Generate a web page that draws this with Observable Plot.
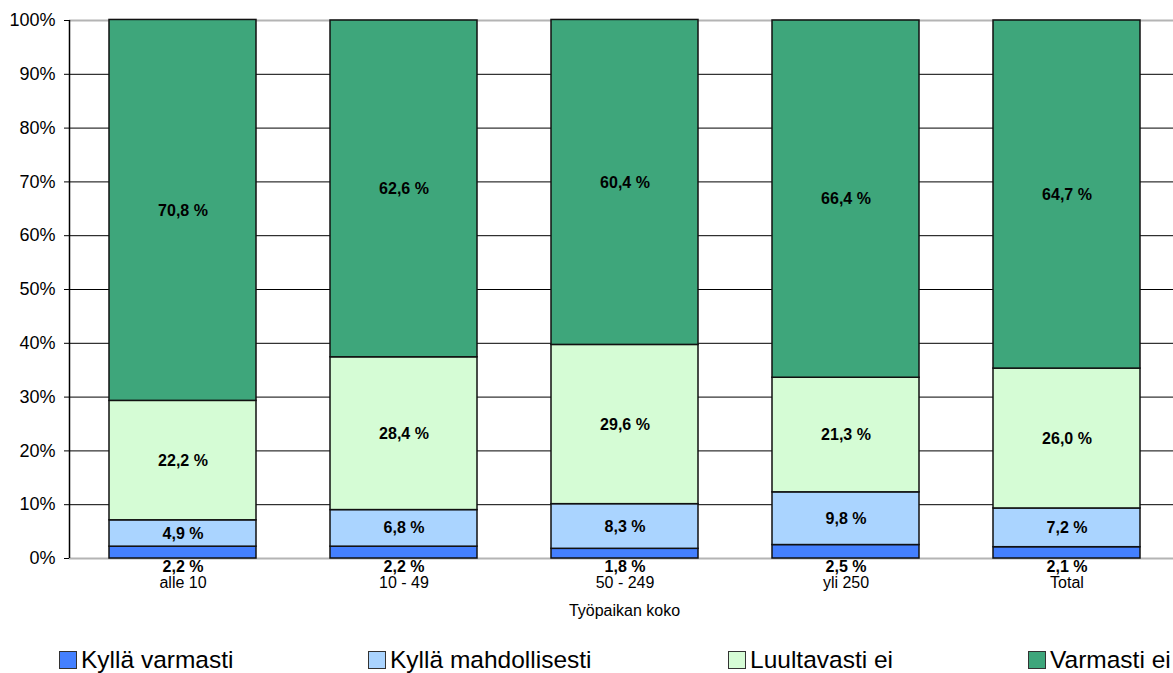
<!DOCTYPE html>
<html>
<head>
<meta charset="utf-8">
<script src="https://cdn.jsdelivr.net/npm/d3@7"></script>
<script src="https://cdn.jsdelivr.net/npm/@observablehq/plot@0.6"></script>
<style>
  html, body { margin: 0; padding: 0; background: #fff; }
  body { width: 1173px; height: 673px; position: relative; overflow: hidden;
         font-family: "Liberation Sans", Arial, sans-serif; color: #000; }
  #chart { position: absolute; left: 0; top: 0; }
  .legend-item { position: absolute; top: 647px; height: 26px; font-size: 24.5px; line-height: 25px; white-space: nowrap; }
  .legend-item .sw { position: absolute; left: 0; top: 4px; width: 16px; height: 16px; border: 1px solid #333; }
  .legend-item .lb { position: absolute; left: 22px; top: 0; }
</style>
</head>
<body>
<div id="chart"></div>
<div id="legend"></div>
<script>
// Työpaikan koko -> vastausjakauma (%)
const categories = ["alle 10", "10 - 49", "50 - 249", "yli 250", "Total"];
const series = ["Kyllä varmasti", "Kyllä mahdollisesti", "Luultavasti ei", "Varmasti ei"];
const colors = ["#4480ff", "#aad4ff", "#d5fcd5", "#3ea67b"];

const kyllaVarmasti      = [2.2, 2.2, 1.8, 2.5, 2.1];
const kyllaMahdollisesti = [4.9, 6.8, 8.3, 9.8, 7.2];
const luultavastiEi      = [22.2, 28.4, 29.6, 21.3, 26.0];
const varmastiEi         = [70.8, 62.6, 60.4, 66.4, 64.7];

const yTicks = [0, 10, 20, 30, 40, 50, 60, 70, 80, 90, 100];
const legendLeft = [59, 368, 728, 1028];

const values = [kyllaVarmasti, kyllaMahdollisesti, luultavastiEi, varmastiEi];
const rows = [];
series.forEach((s, i) => categories.forEach((c, j) => rows.push({category: c, series: s, value: values[i][j]})));

const fmt = v => v.toFixed(1).replace(".", ",") + " %";
const bottom = rows.filter(d => d.series === series[0]);

const chart = Plot.plot({
  width: 1173,
  height: 630,
  marginTop: 20,
  marginBottom: 72,
  marginLeft: 69,
  marginRight: 0,
  style: {fontFamily: "Liberation Sans, Arial, sans-serif", fontSize: "16px", color: "#000", background: "#fff"},
  x: {type: "band", domain: categories, range: [70, 1179], paddingInner: 0.333, paddingOuter: 0.1667},
  y: {domain: [0, 100]},
  color: {domain: series, range: colors},
  marks: [
    Plot.ruleY(yTicks.filter(t => t > 0 && t < 100), {stroke: "#000", strokeWidth: 1}),
    Plot.ruleY([0, 100], {stroke: "#b4b4b4", strokeWidth: 2}),
    Plot.barY(rows, {x: "category", y: "value", fill: "series", stroke: "#111", strokeWidth: 1.5}),
    // segment labels centred in each stacked segment (lowest segment labelled below the bar)
    Plot.text(rows, Plot.stackY({x: "category", y: "value", z: "series",
      text: d => d.series === series[0] ? null : fmt(d.value), fontWeight: "bold", fontSize: 16, fill: "#000"})),
    Plot.text(bottom, {x: "category", y: () => 0, text: d => fmt(d.value),
      fontWeight: "bold", fontSize: 16, fill: "#000", dy: 8}),
    Plot.axisY({ticks: yTicks, tickFormat: d => d + "%", tickSize: 5, tickPadding: 9, fontSize: 18, label: null, stroke: "#000"}),
    Plot.axisX({tickSize: 0, tickPadding: 18, fontSize: 16, label: null}),
    Plot.text(["Työpaikan koko"], {frameAnchor: "bottom", dx: 3, dy: 57, fontSize: 16, fill: "#000"})
  ]
});
document.getElementById("chart").appendChild(chart);

// y-akselin pystyviiva
d3.select(chart).append("line")
  .attr("x1", 69.5).attr("x2", 69.5).attr("y1", 20).attr("y2", 558)
  .attr("stroke", "#000").attr("stroke-width", 1.5);

const legend = document.getElementById("legend");
series.forEach((s, i) => {
  const item = document.createElement("div");
  item.className = "legend-item";
  item.style.left = legendLeft[i] + "px";
  item.innerHTML = `<span class="sw" style="background:${colors[i]}"></span><span class="lb">${s}</span>`;
  legend.appendChild(item);
});
</script>
</body>
</html>
